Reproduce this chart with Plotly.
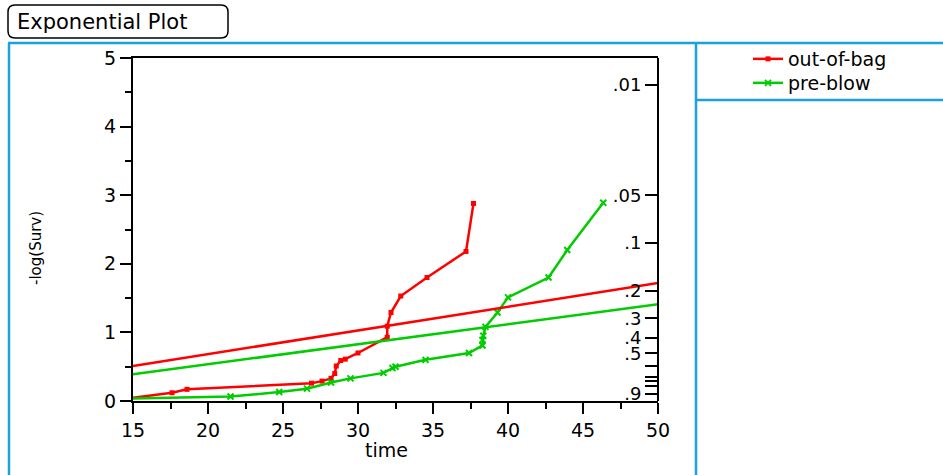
import math
import plotly.graph_objects as go

# ---------------- data ----------------
oob_time = [14.0, 17.6, 18.6, 26.9, 27.6, 28.2, 28.45, 28.55, 28.85, 29.15, 30.0, 31.95, 31.95, 32.2, 32.85, 34.6, 37.2, 37.7]
oob_val = [0.02, 0.12, 0.17, 0.26, 0.29, 0.33, 0.40, 0.51, 0.59, 0.61, 0.70, 0.93, 1.09, 1.29, 1.53, 1.80, 2.18, 2.88]

pre_time = [14.0, 21.5, 24.75, 26.6, 28.2, 29.5, 31.7, 32.3, 32.5, 34.5, 37.4, 38.3, 38.3, 38.35, 38.5, 39.3, 40.0, 42.7, 43.95, 46.35]
pre_val = [0.03, 0.065, 0.13, 0.18, 0.27, 0.33, 0.41, 0.48, 0.50, 0.60, 0.70, 0.81, 0.89, 0.95, 1.08, 1.29, 1.51, 1.80, 2.20, 2.89]

fit_time = [15, 50]
oob_fit = [0.51, 1.72]
pre_fit = [0.39, 1.41]

x_ticks = [15, 20, 25, 30, 35, 40, 45, 50]
y_ticks = [0, 1, 2, 3, 4, 5]
surv_ticks = [0.01, 0.05, 0.1, 0.2, 0.3, 0.4, 0.5, 0.6, 0.7, 0.75, 0.8, 0.9]
surv_labels = [".01", ".05", ".1", ".2", ".3", ".4", ".5", "", "", "", "", ".9"]

RED = "#ff0000"
GREEN = "#00cc00"
BLUE = "#1ba1e2"
FONT = "DejaVu Sans, Verdana, sans-serif"

W, H = 943, 475
L, R, T, B = 133, 658, 58, 401


def px(xp):
    return (xp - L) / (R - L)


def py(yp):
    return (B - yp) / (B - T)


fig = go.Figure()
fig.add_trace(go.Scatter(x=oob_time, y=oob_val, mode="lines+markers", name="out-of-bag",
                         legend="legend",
                         line=dict(color=RED, width=2.5),
                         marker=dict(symbol="square", size=5, color=RED)))
fig.add_trace(go.Scatter(x=pre_time, y=pre_val, mode="lines+markers", name="pre-blow",
                         legend="legend2",
                         line=dict(color=GREEN, width=2.5),
                         marker=dict(symbol="x-thin", size=6, color=GREEN,
                                     line=dict(width=2, color=GREEN))))
fig.add_trace(go.Scatter(x=fit_time, y=oob_fit, mode="lines", showlegend=False,
                         line=dict(color=RED, width=2.5), hoverinfo="skip"))
fig.add_trace(go.Scatter(x=fit_time, y=pre_fit, mode="lines", showlegend=False,
                         line=dict(color=GREEN, width=2.5), hoverinfo="skip"))
fig.add_trace(go.Scatter(x=[None], y=[None], yaxis="y2", showlegend=False, hoverinfo="skip"))

legend_style = dict(xanchor="left", yanchor="middle", font=dict(size=19),
                    bgcolor="rgba(0,0,0,0)", borderwidth=0)

fig.update_layout(
    width=W, height=H,
    margin=dict(l=L, r=W - R, t=T, b=H - B, pad=0),
    paper_bgcolor="white", plot_bgcolor="white",
    font=dict(family=FONT, size=19, color="black"),
    xaxis=dict(range=[15, 50], tickmode="array", tickvals=x_ticks,
               ticks="outside", ticklen=11, tickwidth=2, tickcolor="black",
               minor=dict(ticks="outside", ticklen=6, tickwidth=1.5, dtick=2.5, tick0=15,
                          tickcolor="black", showgrid=False),
               showline=True, linewidth=2, linecolor="black", mirror=True,
               showgrid=False, zeroline=False, tickfont=dict(size=19)),
    yaxis=dict(range=[0, 5], tickmode="array", tickvals=y_ticks,
               ticks="outside", ticklen=11, tickwidth=2, tickcolor="black",
               minor=dict(ticks="outside", ticklen=6, tickwidth=1.5, dtick=0.5, tick0=0,
                          tickcolor="black", showgrid=False),
               showline=True, linewidth=2, linecolor="black",
               showgrid=False, zeroline=False, tickfont=dict(size=19)),
    yaxis2=dict(range=[0, 5], overlaying="y", side="left", anchor="free", position=1.0,
                tickmode="array", tickvals=[-math.log(s) for s in surv_ticks],
                ticktext=surv_labels, ticks="outside", ticklen=12, tickwidth=2,
                tickcolor="black", automargin=False,
                showline=True, linewidth=2, linecolor="black",
                showgrid=False, zeroline=False, tickfont=dict(size=18)),
    legend=dict(x=px(748), y=py(59), **legend_style),
    legend2=dict(x=px(748), y=py(83), **legend_style),
    showlegend=True,
)

# axis titles
fig.add_annotation(text="time", x=px(386), y=py(450), xref="paper", yref="paper",
                   showarrow=False, font=dict(size=19), xanchor="center", yanchor="middle")
fig.add_annotation(text="-log(Surv)", x=px(36), y=py(248), xref="paper", yref="paper",
                   showarrow=False, font=dict(size=15), textangle=-90,
                   xanchor="center", yanchor="middle")

# title box
x0, x1, y0, y1, r = 8, 228, 5, 38, 7
path = (f"M {px(x0 + r)},{py(y0)} L {px(x1 - r)},{py(y0)} "
        f"Q {px(x1)},{py(y0)} {px(x1)},{py(y0 + r)} "
        f"L {px(x1)},{py(y1 - r)} Q {px(x1)},{py(y1)} {px(x1 - r)},{py(y1)} "
        f"L {px(x0 + r)},{py(y1)} Q {px(x0)},{py(y1)} {px(x0)},{py(y1 - r)} "
        f"L {px(x0)},{py(y0 + r)} Q {px(x0)},{py(y0)} {px(x0 + r)},{py(y0)} Z")
fig.add_shape(type="path", path=path, xref="paper", yref="paper",
              line=dict(color="black", width=1.5))
fig.add_annotation(text="Exponential Plot", x=px(15), y=py(22), xref="paper", yref="paper",
                   showarrow=False, font=dict(size=21), xanchor="left", yanchor="middle")

# blue frame
frame = [
    (9, 43, 9, 480),
    (8, 43, 943, 43),
    (696, 43, 696, 480),
    (696, 100, 943, 100),
]
for a, b, c, d in frame:
    fig.add_shape(type="line", x0=px(a), y0=py(b), x1=px(c), y1=py(d),
                  xref="paper", yref="paper", line=dict(color=BLUE, width=2.5))

fig.write_html("out.html", config={"displayModeBar": False},
               post_script="document.body.style.margin='0';")
